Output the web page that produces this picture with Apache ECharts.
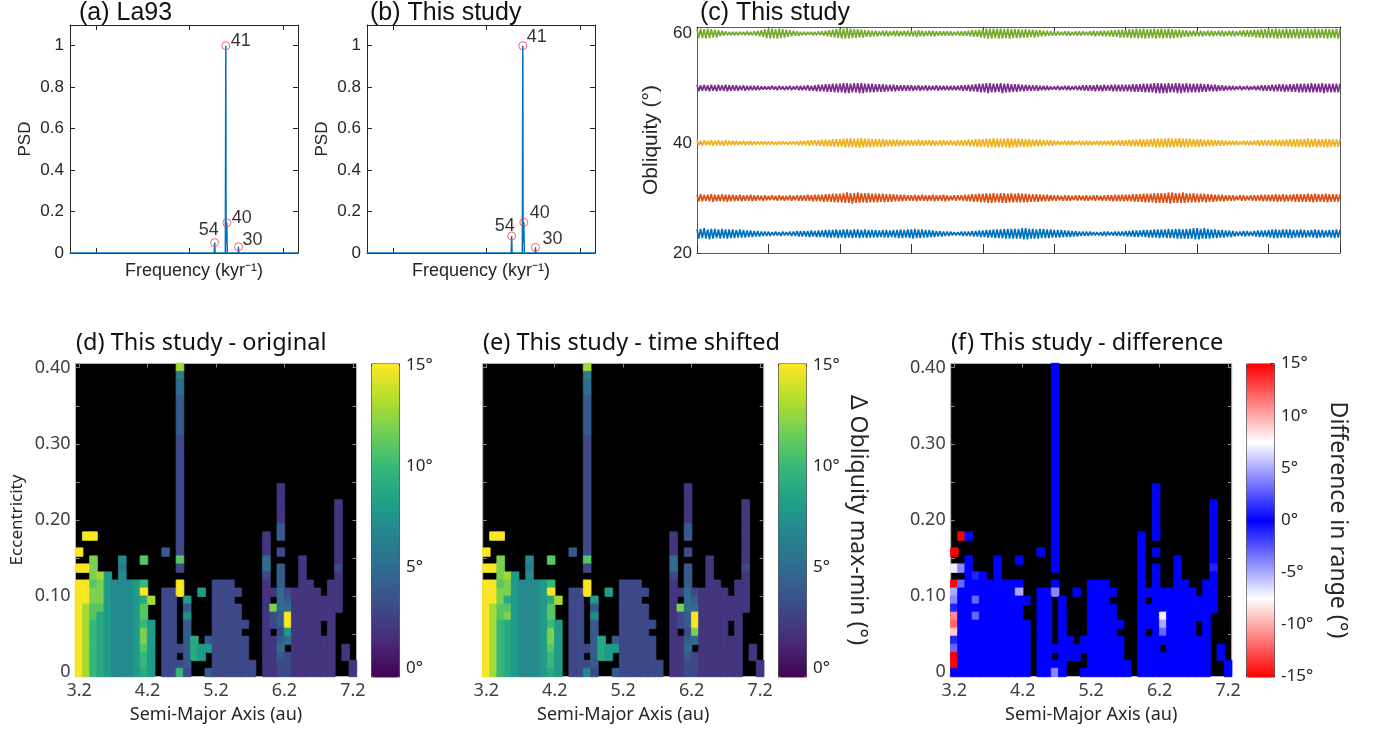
<!DOCTYPE html>
<html><head><meta charset="utf-8">
<script src="https://cdn.jsdelivr.net/npm/echarts@6/dist/echarts.min.js"></script>
<style>html,body{margin:0;padding:0;background:#fff}#c{width:1383px;height:732px}</style>
</head><body><div id="c"></div><script>
// ---------- (a),(b) power spectra ----------
const peakPeriods   = [54, 41, 40, 30];              // kyr
const peakPsdLa93   = [0.05, 1.0, 0.146, 0.03];
const peakPsdStudy  = [0.082, 1.0, 0.148, 0.027];
const specFreq      = [0.00052, 0.0183, 0.01852, 0.0187, 0.0241, 0.02439, 0.02455, 0.025, 0.0253, 0.0331, 0.03333, 0.0336, 0.145];
const specPsdLa93   = [0, 0, 0.05, 0, 0, 1.0, 0.05, 0.146, 0, 0, 0.03, 0, 0];
const specPsdStudy  = [0, 0, 0.082, 0, 0, 1.0, 0.05, 0.148, 0, 0, 0.027, 0, 0];
const freqMin = 0.00052, freqMax = 0.145;

// ---------- (c) obliquity time series (successive peak / trough readings) ----------
const obliqBlue = [
24.3,22.6,24.4,22.7,24.5,22.6,24.3,22.5,24.4,22.6,24.4,22.7,24.3,22.6,24.4,22.7,24.3,22.6,24.3,22.7,
24.3,22.7,24.2,22.8,24.3,22.8,24.2,22.8,24.1,22.9,24.1,22.9,24.0,23.0,24.0,23.0,23.9,23.1,23.9,23.1,
23.9,23.1,23.8,23.2,23.9,23.2,23.8,23.1,23.9,23.2,23.8,23.2,23.9,23.1,23.9,23.1,24.0,23.0,24.0,23.0,
24.0,23.0,24.0,22.9,24.1,23.0,24.0,22.9,24.1,22.9,24.1,22.9,24.2,22.8,24.2,22.8,24.2,22.8,24.3,22.7,
24.2,22.8,24.3,22.7,24.3,22.8,24.2,22.7,24.3,22.8,24.3,22.7,24.2,22.8,24.3,22.7,24.2,22.8,24.2,22.8,
24.2,22.8,24.1,22.9,24.2,22.8,24.2,22.8,24.1,22.9,24.2,22.8,24.2,22.7,24.3,22.7,24.2,22.8,24.3,22.7,
24.3,22.6,24.4,22.7,24.3,22.7,24.3,22.8,24.2,22.8,24.2,22.9,24.1,22.9,24.0,23.0,24.0,23.0,23.9,23.1,
23.9,23.1,23.9,23.2,23.8,23.2,23.8,23.2,23.9,23.1,23.9,23.1,23.9,23.1,24.0,23.0,24.0,23.0,24.1,22.9,
24.1,22.9,24.2,22.8,24.2,22.8,24.3,22.7,24.3,22.7,24.3,22.7,24.4,22.6,24.4,22.6,24.4,22.6,24.4,22.6,
24.4,22.6,24.5,22.5,24.5,22.5,24.4,22.6,24.4,22.6,24.3,22.6,24.4,22.7,24.4,22.7,24.3,22.7,24.3,22.8,
24.2,22.8,24.2,22.8,24.2,22.9,24.1,22.9,24.1,22.9,24.0,23.0,24.0,23.0,23.9,23.1,23.9,23.1,23.9,23.1,
23.9,23.2,23.8,23.2,23.8,23.2,23.8,23.1,23.9,23.1,23.9,23.2,23.8,23.2,23.9,23.1,23.9,23.1,23.9,23.1,
24.0,23.0,24.0,23.0,24.1,22.9,24.1,22.9,24.1,23.0,24.2,22.9,24.2,22.8,24.2,22.8,24.3,22.8,24.3,22.7,
24.3,22.8,24.3,22.7,24.4,22.7,24.3,22.7,24.4,22.6,24.4,22.6,24.3,22.6,24.4,22.6,24.4,22.6,24.5,22.5,
24.5,22.5,24.4,22.6,24.5,22.6,24.4,22.6,24.3,22.7,24.3,22.7,24.2,22.8,24.2,22.8,24.1,22.9,24.1,22.9,
24.0,23.0,23.9,23.1,23.9,23.1,24.0,23.0,24.0,23.1,23.9,23.1,24.0,23.0,24.1,22.9,24.1,22.9,24.1,22.9,
24.2,22.8,24.3,22.7,24.3,22.7,24.2,22.8,24.3,22.8,24.3,22.7,24.3,22.7,24.2,22.8,24.2,22.8,24.3,22.8,
24.2,22.8,24.1,22.9,24.2,22.8,24.3,22.7,24.2,22.8,24.2,22.8,24.1,22.9,24.2,22.8,24.2,22.7,24.3,22.8,
24.2];
const obliqOrange = [
30.6,29.4,30.7,29.4,30.6,29.5,30.6,29.4,30.7,29.3,30.6,29.4,30.6,29.4,30.7,29.4,30.6,29.3,30.6,29.4,
30.6,29.4,30.5,29.5,30.6,29.4,30.5,29.5,30.5,29.5,30.6,29.4,30.5,29.5,30.5,29.6,30.4,29.5,30.5,29.6,
30.4,29.6,30.5,29.6,30.4,29.5,30.5,29.6,30.4,29.5,30.4,29.6,30.5,29.5,30.4,29.6,30.5,29.5,30.5,29.5,
30.5,29.5,30.6,29.5,30.5,29.4,30.6,29.4,30.6,29.4,30.6,29.3,30.7,29.3,30.7,29.3,30.8,29.2,30.8,29.2,
30.8,29.2,30.9,29.1,31.0,29.1,30.9,29.0,30.9,29.1,31.0,29.1,30.9,29.2,30.9,29.1,30.9,29.2,30.8,29.2,
30.8,29.2,30.8,29.3,30.8,29.2,30.7,29.3,30.7,29.3,30.7,29.4,30.6,29.4,30.6,29.4,30.6,29.5,30.5,29.5,
30.5,29.5,30.6,29.4,30.5,29.5,30.6,29.5,30.5,29.4,30.5,29.5,30.6,29.4,30.5,29.5,30.5,29.5,30.6,29.4,
30.5,29.5,30.4,29.6,30.5,29.5,30.5,29.6,30.5,29.5,30.6,29.4,30.6,29.4,30.7,29.3,30.7,29.3,30.8,29.2,
30.8,29.2,30.9,29.1,30.8,29.1,30.9,29.2,30.8,29.2,30.9,29.1,30.9,29.1,30.8,29.2,30.9,29.2,30.8,29.2,
30.9,29.2,30.8,29.2,30.8,29.2,30.7,29.3,30.7,29.3,30.7,29.3,30.6,29.4,30.6,29.4,30.6,29.4,30.5,29.5,
30.5,29.5,30.5,29.6,30.4,29.5,30.5,29.5,30.5,29.5,30.4,29.6,30.5,29.5,30.5,29.6,30.4,29.5,30.5,29.5,
30.4,29.6,30.5,29.5,30.5,29.6,30.4,29.5,30.5,29.5,30.5,29.5,30.5,29.4,30.6,29.4,30.6,29.4,30.6,29.4,
30.6,29.4,30.6,29.4,30.7,29.3,30.7,29.3,30.7,29.3,30.8,29.2,30.8,29.2,30.8,29.2,30.9,29.1,30.9,29.1,
30.9,29.1,30.9,29.1,31.0,29.0,31.0,29.1,30.9,29.1,30.9,29.1,31.0,29.1,30.9,29.2,30.8,29.2,30.9,29.2,
30.8,29.2,30.8,29.3,30.8,29.2,30.7,29.3,30.7,29.3,30.6,29.4,30.6,29.4,30.6,29.4,30.5,29.5,30.5,29.5,
30.5,29.5,30.4,29.6,30.5,29.5,30.5,29.5,30.4,29.6,30.5,29.5,30.5,29.5,30.5,29.5,30.6,29.4,30.6,29.4,
30.6,29.4,30.6,29.4,30.7,29.3,30.6,29.4,30.7,29.3,30.6,29.4,30.6,29.4,30.7,29.3,30.7,29.3,30.7,29.3,
30.7,29.3,30.8,29.3,30.7,29.2,30.8,29.3,30.7,29.3,30.7,29.3,30.8,29.2,30.7,29.3,30.7,29.3,30.7,29.3,
30.7];
const obliqYellow = [
40.5,39.6,40.4,39.5,40.5,39.6,40.4,39.6,40.5,39.5,40.4,39.6,40.5,39.6,40.4,39.5,40.5,39.6,40.4,39.6,
40.4,39.6,40.4,39.6,40.3,39.7,40.4,39.6,40.3,39.7,40.4,39.6,40.3,39.7,40.3,39.7,40.3,39.7,40.3,39.7,
40.3,39.7,40.3,39.7,40.2,39.7,40.3,39.7,40.3,39.8,40.2,39.7,40.3,39.7,40.3,39.7,40.3,39.6,40.4,39.6,
40.4,39.6,40.5,39.5,40.5,39.6,40.5,39.5,40.5,39.5,40.6,39.4,40.6,39.4,40.6,39.4,40.7,39.3,40.7,39.3,
40.7,39.3,40.8,39.2,40.8,39.2,40.9,39.2,40.8,39.2,40.8,39.1,40.9,39.2,40.8,39.2,40.8,39.2,40.7,39.3,
40.7,39.3,40.7,39.3,40.7,39.3,40.6,39.4,40.6,39.4,40.6,39.4,40.6,39.4,40.5,39.5,40.5,39.5,40.5,39.5,
40.5,39.5,40.5,39.5,40.6,39.5,40.5,39.5,40.5,39.6,40.5,39.5,40.5,39.5,40.4,39.6,40.5,39.5,40.5,39.6,
40.4,39.6,40.5,39.6,40.4,39.5,40.5,39.5,40.5,39.5,40.5,39.5,40.6,39.4,40.6,39.4,40.7,39.3,40.7,39.3,
40.7,39.3,40.8,39.2,40.8,39.2,40.9,39.2,40.8,39.2,40.8,39.2,40.8,39.2,40.9,39.1,40.8,39.2,40.8,39.2,
40.8,39.3,40.7,39.3,40.7,39.3,40.7,39.3,40.6,39.4,40.6,39.4,40.6,39.4,40.5,39.5,40.5,39.5,40.5,39.5,
40.4,39.6,40.4,39.6,40.3,39.7,40.4,39.6,40.4,39.6,40.4,39.6,40.3,39.7,40.4,39.6,40.4,39.6,40.4,39.6,
40.4,39.6,40.3,39.7,40.4,39.6,40.4,39.6,40.4,39.6,40.4,39.6,40.5,39.5,40.4,39.6,40.5,39.5,40.5,39.5,
40.5,39.5,40.6,39.4,40.6,39.4,40.6,39.4,40.7,39.3,40.7,39.3,40.7,39.3,40.7,39.3,40.8,39.2,40.8,39.2,
40.8,39.2,40.8,39.2,40.9,39.2,40.8,39.2,40.8,39.3,40.9,39.2,40.8,39.2,40.8,39.2,40.8,39.3,40.7,39.3,
40.7,39.3,40.7,39.3,40.6,39.4,40.6,39.4,40.6,39.4,40.5,39.5,40.5,39.5,40.5,39.5,40.4,39.6,40.4,39.6,
40.4,39.6,40.4,39.6,40.3,39.7,40.4,39.6,40.4,39.6,40.4,39.6,40.4,39.6,40.5,39.5,40.5,39.5,40.5,39.5,
40.5,39.5,40.5,39.5,40.6,39.4,40.6,39.4,40.6,39.4,40.6,39.4,40.7,39.3,40.7,39.3,40.7,39.3,40.7,39.3,
40.7,39.3,40.8,39.2,40.7,39.3,40.8,39.2,40.7,39.3,40.7,39.3,40.8,39.2,40.7,39.3,40.7,39.3,40.7,39.3,
40.7];
const obliqPurple = [
50.6,49.4,50.5,49.5,50.6,49.5,50.5,49.4,50.6,49.5,50.5,49.4,50.6,49.5,50.5,49.5,50.6,49.4,50.5,49.5,
50.5,49.5,50.5,49.5,50.4,49.6,50.5,49.5,50.4,49.6,50.4,49.6,50.4,49.6,50.4,49.6,50.3,49.7,50.3,49.7,
50.3,49.7,50.4,49.7,50.3,49.6,50.4,49.7,50.3,49.6,50.3,49.7,50.4,49.6,50.3,49.7,50.4,49.6,50.4,49.6,
50.4,49.6,50.5,49.5,50.4,49.5,50.5,49.4,50.6,49.4,50.6,49.4,50.7,49.3,50.7,49.3,50.8,49.2,50.8,49.2,
50.8,49.2,50.9,49.1,50.9,49.1,50.8,49.2,50.9,49.2,50.9,49.1,50.9,49.1,50.8,49.2,50.8,49.2,50.8,49.2,
50.7,49.3,50.7,49.3,50.7,49.3,50.6,49.4,50.6,49.4,50.6,49.4,50.5,49.5,50.5,49.5,50.5,49.5,50.5,49.5,
50.5,49.5,50.4,49.6,50.5,49.5,50.4,49.6,50.5,49.5,50.4,49.6,50.4,49.6,50.5,49.5,50.4,49.6,50.4,49.6,
50.4,49.6,50.4,49.6,50.4,49.6,50.4,49.6,50.5,49.5,50.5,49.5,50.6,49.4,50.6,49.4,50.7,49.3,50.8,49.2,
50.8,49.2,50.9,49.1,50.9,49.2,50.8,49.2,50.8,49.3,50.9,49.1,50.8,49.2,50.8,49.2,50.7,49.3,50.7,49.3,
50.7,49.4,50.6,49.4,50.6,49.5,50.5,49.5,50.5,49.5,50.5,49.5,50.4,49.6,50.4,49.6,50.4,49.6,50.3,49.7,
50.3,49.7,50.4,49.6,50.3,49.7,50.4,49.6,50.4,49.6,50.3,49.7,50.4,49.6,50.4,49.6,50.5,49.5,50.5,49.5,
50.5,49.5,50.5,49.4,50.6,49.5,50.5,49.4,50.6,49.5,50.5,49.5,50.6,49.4,50.6,49.4,50.6,49.4,50.6,49.4,
50.6,49.4,50.6,49.4,50.7,49.3,50.7,49.3,50.7,49.3,50.8,49.2,50.8,49.2,50.8,49.2,50.9,49.1,50.9,49.1,
50.9,49.1,50.8,49.1,50.9,49.2,50.8,49.2,50.9,49.1,50.9,49.1,50.8,49.2,50.9,49.2,50.8,49.2,50.8,49.2,
50.8,49.2,50.8,49.3,50.7,49.3,50.7,49.4,50.6,49.4,50.6,49.4,50.5,49.5,50.5,49.5,50.4,49.6,50.4,49.6,
50.4,49.6,50.3,49.7,50.4,49.6,50.3,49.7,50.4,49.6,50.3,49.7,50.4,49.6,50.4,49.6,50.5,49.5,50.5,49.5,
50.5,49.5,50.6,49.4,50.6,49.4,50.7,49.4,50.7,49.3,50.6,49.4,50.7,49.3,50.7,49.3,50.8,49.2,50.8,49.2,
50.8,49.2,50.8,49.2,50.9,49.2,50.8,49.2,50.8,49.2,50.9,49.1,50.8,49.2,50.8,49.2,50.8,49.2,50.8,49.2,
50.8];
const obliqGreen = [
60.7,59.1,60.8,59.1,60.7,59.0,60.8,59.1,60.7,59.2,60.6,59.2,60.5,59.4,60.4,59.5,60.3,59.6,60.2,59.6,
60.2,59.6,60.2,59.6,60.2,59.7,60.2,59.6,60.3,59.6,60.2,59.6,60.3,59.5,60.4,59.4,60.5,59.3,60.7,59.1,
60.8,59.0,60.8,59.1,60.7,59.0,60.8,59.1,60.7,59.2,60.6,59.3,60.5,59.4,60.4,59.5,60.3,59.5,60.2,59.6,
60.2,59.6,60.2,59.7,60.2,59.6,60.2,59.6,60.3,59.6,60.3,59.5,60.4,59.4,60.5,59.3,60.6,59.2,60.7,59.1,
60.8,59.0,60.8,59.0,60.9,59.0,60.8,59.1,60.7,59.1,60.7,59.2,60.6,59.2,60.5,59.3,60.5,59.3,60.4,59.4,
60.4,59.4,60.3,59.5,60.4,59.4,60.4,59.4,60.3,59.5,60.4,59.4,60.4,59.4,60.3,59.5,60.4,59.4,60.4,59.4,
60.4,59.4,60.4,59.3,60.5,59.4,60.4,59.4,60.3,59.5,60.4,59.4,60.4,59.4,60.3,59.5,60.3,59.5,60.3,59.5,
60.3,59.5,60.3,59.5,60.2,59.6,60.3,59.5,60.3,59.5,60.3,59.5,60.4,59.4,60.5,59.3,60.5,59.3,60.6,59.2,
60.7,59.1,60.8,59.0,60.8,59.0,60.8,59.1,60.8,59.0,60.8,59.0,60.7,59.1,60.8,59.0,60.7,59.1,60.7,59.1,
60.7,59.1,60.6,59.2,60.7,59.2,60.6,59.3,60.6,59.2,60.5,59.3,60.5,59.4,60.4,59.4,60.4,59.5,60.3,59.5,
60.3,59.5,60.3,59.6,60.2,59.6,60.3,59.5,60.3,59.5,60.2,59.6,60.3,59.5,60.3,59.5,60.3,59.6,60.2,59.6,
60.3,59.5,60.4,59.4,60.3,59.5,60.4,59.4,60.4,59.4,60.4,59.4,60.5,59.3,60.5,59.3,60.6,59.2,60.6,59.2,
60.6,59.2,60.7,59.1,60.7,59.1,60.8,59.0,60.7,59.1,60.8,59.0,60.7,59.1,60.7,59.1,60.8,59.0,60.7,59.1,
60.8,59.0,60.7,59.1,60.8,59.0,60.7,59.1,60.6,59.2,60.6,59.2,60.5,59.3,60.5,59.3,60.4,59.4,60.4,59.4,
60.4,59.4,60.4,59.4,60.3,59.5,60.4,59.4,60.4,59.4,60.3,59.5,60.4,59.4,60.4,59.4,60.3,59.5,60.4,59.4,
60.4,59.4,60.3,59.5,60.4,59.4,60.5,59.3,60.5,59.3,60.5,59.3,60.6,59.2,60.6,59.2,60.7,59.1,60.7,59.1,
60.7,59.1,60.7,59.1,60.8,59.0,60.7,59.1,60.7,59.1,60.8,59.0,60.7,59.1,60.7,59.1,60.8,59.0,60.7,59.1,
60.7,59.1,60.8,59.0,60.7,59.1,60.8,59.0,60.7,59.1,60.7,59.1,60.8,59.0,60.7,59.1,60.7,59.1,60.8,59.0,
60.7];
const obliqTicks = [20, 40, 60];
const timeSteps = obliqBlue.map((_, i) => i);

// ---------- (d),(e),(f) stability maps ----------
const semiMajorAxis = [3.200,3.305,3.411,3.516,3.621,3.726,3.832,3.937,4.042,4.147,4.253,4.358,4.463,4.568,4.674,4.779,4.884,4.989,5.095,5.200,
 5.305,5.411,5.516,5.621,5.726,5.832,5.937,6.042,6.147,6.253,6.358,6.463,6.568,6.674,6.779,6.884,6.989,7.095,7.200];
const eccentricity = [0,0.011,0.021,0.032,0.042,0.053,0.063,0.074,0.084,0.095,0.105,0.116,0.126,0.137,0.147,0.158,0.168,0.179,0.189,0.200,
 0.211,0.221,0.232,0.242,0.253,0.263,0.274,0.284,0.295,0.305,0.316,0.326,0.337,0.347,0.358,0.368,0.379,0.389,0.400];
const axisTicksA = [3.2, 4.2, 5.2, 6.2, 7.2];
const axisTicksE = [0, 0.1, 0.2, 0.3, 0.4];
const tickMarksE = [0, 0.05, 0.1, 0.15, 0.2, 0.25, 0.3, 0.35, 0.4];
// one string per eccentricity row (top = 0.40), one char per semi-major axis column;
// char = degrees in hex (0..F), '.' = unstable (no value)
const rangeOriginal = [
"..........|....D.....|..........|.........",
"..........|....6.....|..........|.........",
"..........|....5.....|..........|.........",
"..........|....5.....|..........|.........",
"..........|....4.....|..........|.........",
"..........|....4.....|..........|.........",
"..........|....4.....|..........|.........",
"..........|....4.....|..........|.........",
"..........|....4.....|..........|.........",
"..........|....3.....|..........|.........",
"..........|....3.....|..........|.........",
"..........|....3.....|..........|.........",
"..........|....3.....|..........|.........",
"..........|....3.....|..........|.........",
"..........|....3.....|..........|.........",
"..........|....3.....|........2.|.........",
"..........|....3.....|........2.|.........",
"..........|....3.....|........2.|......2..",
"..........|....3.....|........2.|......2..",
"..........|....3.....|........2.|......2..",
"..........|....3.....|........4.|......2..",
".FF.......|....3.....|......2.4.|......2..",
"..........|....3.....|......2...|......2..",
"F.........|..4.3.....|......2.3.|......2..",
"..C...7..B|....B.....|......5...|.2....2..",
"FFC...6...|....3.....|......5.4.|.2....3..",
"..CD8.7...|..........|......3.4.|.2....2..",
"FFBC87778A|....F....3|33....2.4.|.22..22..",
"FFCC87778F|..33F..8.3|333...2253|2222.22..",
"FFCC877789|D.33.8...3|33....2.54|2222222..",
"FDBB87778B|..33.4...3|333...2C55|2222222..",
"FDB987778B|..33.7...3|333...234F|222222...",
"FDA987778A|8.33.4...3|3333..234F|2222.2...",
"FDA987778C|8.33.4...3|333...2.38|2222.2...",
"FDA987778C|8.33.49.43|3333..2245|222222...",
"FDA987778B|8.33349883|3333..225.|222222.2.",
"FDA987778A|8.33.498.3|3333..2243|222222.2.",
"FDA987778A|8.3334...3|33333.2233|222222..2",
"FDA9877789|8.33A3..43|33333.2233|222222..2"];
const rangeShifted = [
"..........|....D.....|..........|.........",
"..........|....6.....|..........|.........",
"..........|....5.....|..........|.........",
"..........|....5.....|..........|.........",
"..........|....4.....|..........|.........",
"..........|....4.....|..........|.........",
"..........|....4.....|..........|.........",
"..........|....4.....|..........|.........",
"..........|....4.....|..........|.........",
"..........|....3.....|..........|.........",
"..........|....3.....|..........|.........",
"..........|....3.....|..........|.........",
"..........|....3.....|..........|.........",
"..........|....3.....|..........|.........",
"..........|....3.....|..........|.........",
"..........|....3.....|........2.|.........",
"..........|....3.....|........2.|.........",
"..........|....3.....|........2.|......2..",
"..........|....3.....|........2.|......2..",
"..........|....3.....|........2.|......2..",
"..........|....3.....|........4.|......2..",
".FF.......|....3.....|......2.4.|......2..",
"..........|....3.....|......2...|......2..",
"F.........|..4.3.....|......2.3.|......2..",
"..C...7..B|....B.....|......5...|.2....2..",
"FFC...6...|....3.....|......5.4.|.2....3..",
"..CD8.7...|..........|......3.4.|.2....2..",
"FFBC87778A|....F....3|33....2.4.|.22..22..",
"FFCC87778F|..33F..8.3|333...2253|2222.22..",
"FFC9877789|D.33.8...3|33....2.54|2222222..",
"FDBB87778B|..33.4...3|333...2C55|2222222..",
"FDBC87778B|..33.7...3|333...234F|222222...",
"FDA987778A|8.33.4...3|3333..234F|2222.2...",
"FDA987778C|8.33.4...3|333...2.3C|2222.2...",
"FDA987778C|8.33.49.43|3333..2245|222222...",
"FDA987778B|8.33349883|3333..225.|222222.2.",
"FDA987778A|8.33.498.3|3333..2243|222222.2.",
"FDA987778A|8.3334...3|33333.2233|222222..2",
"FDA9877789|8.3373..43|33333.2233|222222..2"];
// |difference| in degrees (hex), '.' = unstable
const rangeDifference = [
"..........|....0.....|..........|.........",
"..........|....0.....|..........|.........",
"..........|....0.....|..........|.........",
"..........|....0.....|..........|.........",
"..........|....0.....|..........|.........",
"..........|....0.....|..........|.........",
"..........|....0.....|..........|.........",
"..........|....0.....|..........|.........",
"..........|....0.....|..........|.........",
"..........|....0.....|..........|.........",
"..........|....0.....|..........|.........",
"..........|....0.....|..........|.........",
"..........|....0.....|..........|.........",
"..........|....0.....|..........|.........",
"..........|....0.....|..........|.........",
"..........|....0.....|........0.|.........",
"..........|....0.....|........0.|.........",
"..........|....0.....|........0.|......0..",
"..........|....0.....|........0.|......0..",
"..........|....0.....|........0.|......0..",
"..........|....0.....|........0.|......0..",
".F0.......|....0.....|......0.0.|......0..",
"..........|....0.....|......0...|......0..",
"F.........|..0.0.....|......0.0.|......0..",
"..0...0..0|....0.....|......0...|.0....0..",
"740...0...|....0.....|......0.0.|.0....1..",
"..010.0...|..........|......0.0.|.0....0..",
"F300000000|....0....0|00....0.0.|.00..00..",
"5000000005|..004..0.0|000...0000|0000.00..",
"4003000000|0.00.0...0|00....0.00|0000000..",
"1000000000|..00.0...0|000...0000|0000000..",
"B003000000|..00.0...0|000...0007|000000...",
"C000000000|0.00.0...0|0000..0005|0000.0...",
"9000000000|0.00.0...0|000...0.03|0000.0...",
"1000000000|0.00.00.00|0000..0000|000000...",
"3000000000|0.00000000|0000..000.|000000.0.",
"F000000000|0.00.000.0|0000..0000|000000.0.",
"F000000000|0.0000...0|00000.0000|000000..0",
"0000000000|0.0040..00|00000.0000|000000..0"];
const cbTicksRange = [0, 5, 10, 15];
const cbTicksDiff = [-15, -10, -5, 0, 5, 10, 15];

// ---------- styling ----------
const FT = '"Liberation Sans", Arial, Helvetica, sans-serif';
const FTN = '"Liberation Sans Narrow", "Liberation Sans", Arial, sans-serif';
const FB = '"Noto Sans", "Open Sans", sans-serif';
const INK = '#262626';
const viridis = ['#440154','#482878','#3e4a89','#31688e','#26828e','#1f9e89','#35b779','#6ece58','#b5de2b','#fde725'];
const diffColors = ['#ff0000','#ffffff','#0000ff','#ffffff','#ff0000'];

const grid = [], xAxis = [], yAxis = [], series = [], visualMap = [];

function cellsToData(rows, vmin, vmax, colors) {
  const out = [];
  const n = rows.length;
  rows.forEach((raw, r) => {
    const row = raw.replace(/\|/g, '');
    for (let c = 0; c < row.length; c++) {
      const ch = row[c];
      if (ch === '.') continue;
      const v = parseInt(ch, 16);
      const t = Math.max(0, Math.min(1, (v - vmin) / (vmax - vmin)));
      // border in the cell's own colour hides anti-aliasing seams between cells
      out.push({value: [c, n - 1 - r, v], itemStyle: {borderColor: echarts.color.lerp(t, colors), borderWidth: 0.8}});
    }
  });
  return out;
}

function psdPanel(left, specPsd, peakPsd, offs, namePad) {
  const gi = grid.push({left: left, top: 25, width: 228, height: 228}) - 1;
  const xi = xAxis.length;
  const cx = {gridIndex: gi, type: 'log', logBase: 10, min: freqMin, max: freqMax, splitLine: {show: false},
    axisLine: {onZero: false, lineStyle: {color: INK, width: 1}},
    axisTick: {inside: true, length: 5, lineStyle: {color: INK}}, axisLabel: {show: false}, minorTick: {show: false}};
  xAxis.push(Object.assign({}, cx, {position: 'bottom', name: 'Frequency (kyr\u207B\u00B9)', nameLocation: 'middle', nameGap: 9,
    nameTextStyle: {fontFamily: FT, fontSize: 18, color: INK, padding: [0, 0, 0, namePad]}}));
  xAxis.push(Object.assign({}, cx, {position: 'top'}));
  const yi = yAxis.length;
  const cy = {gridIndex: gi, type: 'value', min: 0, max: 1.1, interval: 0.2, splitLine: {show: false},
    axisLine: {show: true, onZero: false, lineStyle: {color: INK}},
    axisTick: {show: true, inside: true, length: 5, lineStyle: {color: INK}}};
  yAxis.push(Object.assign({}, cy, {position: 'left',
    axisLabel: {showMaxLabel: false, fontFamily: FT, fontSize: 17, color: INK, margin: 6},
    name: 'PSD', nameLocation: 'middle', nameGap: 36, nameRotate: 90,
    nameTextStyle: {fontFamily: FT, fontSize: 17, color: INK}}));
  yAxis.push(Object.assign({}, cy, {position: 'right', axisLabel: {show: false}}));
  series.push({type: 'line', xAxisIndex: xi, yAxisIndex: yi, z: 2, showSymbol: false, silent: true,
    data: specFreq.map((f, i) => [f, specPsd[i]]), lineStyle: {color: '#0072BD', width: 1.5}});
  series.push({type: 'scatter', xAxisIndex: xi, yAxisIndex: yi, z: 3, symbol: 'circle', symbolSize: 8, silent: true,
    itemStyle: {color: 'rgba(0,0,0,0)', borderColor: '#ff3b3b', borderWidth: 1},
    data: peakPeriods.map((p, i) => ({value: [1 / p, peakPsd[i]], label: {offset: offs[i]}})),
    label: {show: true, position: 'inside', fontFamily: FT, fontSize: 18, color: '#000',
      formatter: (p) => String(peakPeriods[p.dataIndex])}});
}

psdPanel(70, specPsdLa93, peakPsdLa93, [[-6, -13], [15, -5], [15, -5], [14, -7]], 20);
psdPanel(367, specPsdStudy, peakPsdStudy, [[-7, -10], [14, -9], [16, -9], [17, -8]], 0);

// (c)
(function () {
  const gi = grid.push({left: 697, top: 27, width: 643, height: 226}) - 1;
  const xi = xAxis.length;
  const step = (timeSteps.length - 1) / 9 - 1;
  const cx = {gridIndex: gi, type: 'category', data: timeSteps, boundaryGap: false, axisLabel: {show: false},
    splitLine: {show: false}, axisLine: {onZero: false, lineStyle: {color: '#5a5a5a'}}};
  xAxis.push(Object.assign({}, cx, {position: 'bottom', axisTick: {inside: true, length: 9, interval: step, lineStyle: {color: '#333'}}}));
  xAxis.push(Object.assign({}, cx, {position: 'top', axisTick: {inside: true, length: 4, interval: step, lineStyle: {color: '#333'}}}));
  const yi = yAxis.length;
  yAxis.push({gridIndex: gi, type: 'value', position: 'left', min: 20, max: 61.1, splitLine: {show: false},
    axisLine: {show: true, onZero: false, lineStyle: {color: '#5a5a5a'}},
    axisTick: {show: true, inside: true, length: 4, customValues: obliqTicks, lineStyle: {color: '#333'}},
    axisLabel: {customValues: obliqTicks, fontFamily: FTN, fontSize: 17, color: INK, margin: 5},
    name: 'Obliquity (\u00B0)', nameLocation: 'middle', nameGap: 35, nameRotate: 90,
    nameTextStyle: {fontFamily: FT, fontSize: 21, color: INK}});
  yAxis.push({gridIndex: gi, type: 'value', position: 'right', min: 20, max: 61.1, splitLine: {show: false},
    axisLine: {show: true, onZero: false, lineStyle: {color: '#5a5a5a'}}, axisTick: {show: false}, axisLabel: {show: false}});
  const lines = [[obliqBlue, '#0072BD'], [obliqOrange, '#D95319'], [obliqYellow, '#EDB120'], [obliqPurple, '#7E2F8E'], [obliqGreen, '#77AC30']];
  lines.forEach(([d, col]) => series.push({type: 'line', xAxisIndex: xi, yAxisIndex: yi, data: d, showSymbol: false, silent: true,
    lineStyle: {color: col, width: 1.7}}));
})();

// (d),(e),(f)
const aHalf = (semiMajorAxis[1] - semiMajorAxis[0]) / 2;
const eHalf = (eccentricity[1] - eccentricity[0]) / 2;
const aMin = semiMajorAxis[0] - aHalf, aMax = semiMajorAxis[semiMajorAxis.length - 1] + aHalf;
const eMin = eccentricity[0] - eHalf, eMax = eccentricity[eccentricity.length - 1] + eHalf;

function heatPanel(opt) {
  const top = 363.5, w = 281, h = 313;
  const gi = grid.push({left: opt.left, top: top, width: w, height: h, show: true, backgroundColor: '#000',
    borderColor: '#b4b4b4', borderWidth: 1}) - 1;
  const xc = xAxis.length;
  xAxis.push({gridIndex: gi, type: 'category', data: semiMajorAxis, show: false});
  const tickStyle = {show: true, inside: true, length: 4, lineStyle: {color: '#8a8a8a'}};
  xAxis.push({gridIndex: gi, type: 'value', position: 'bottom', min: aMin, max: aMax, splitLine: {show: false},
    axisLine: {show: false, onZero: false}, axisTick: Object.assign({customValues: axisTicksA}, tickStyle),
    axisLabel: {customValues: axisTicksA, formatter: (v) => v.toFixed(1), fontFamily: FB, fontSize: 18, color: '#404040', margin: 5},
    name: 'Semi-Major Axis (au)', nameLocation: 'middle', nameGap: 29,
    nameTextStyle: {fontFamily: FB, fontSize: 18, color: '#262626'}});
  xAxis.push({gridIndex: gi, type: 'value', position: 'top', min: aMin, max: aMax, splitLine: {show: false},
    axisLine: {show: false, onZero: false}, axisTick: Object.assign({customValues: axisTicksA}, tickStyle), axisLabel: {show: false}});
  const yc = yAxis.length;
  yAxis.push({gridIndex: gi, type: 'category', data: eccentricity, show: false});
  const yl = {gridIndex: gi, type: 'value', position: 'left', min: eMin, max: eMax, splitLine: {show: false},
    axisLine: {show: false, onZero: false}, axisTick: Object.assign({customValues: tickMarksE}, tickStyle),
    axisLabel: {show: opt.yLabels, customValues: axisTicksE, formatter: (v) => (v === 0 ? '0' : v.toFixed(2)),
      fontFamily: FB, fontSize: 18, color: '#404040', margin: 5}};
  if (opt.yName) Object.assign(yl, {name: opt.yName, nameLocation: 'middle', nameGap: 50, nameRotate: 90,
    nameTextStyle: {fontFamily: FB, fontSize: 17, color: '#262626'}});
  yAxis.push(yl);
  yAxis.push({gridIndex: gi, type: 'value', position: 'right', min: eMin, max: eMax, splitLine: {show: false},
    axisLine: {show: false, onZero: false}, axisTick: Object.assign({customValues: tickMarksE}, tickStyle), axisLabel: {show: false}});
  const si = series.push({type: 'heatmap', xAxisIndex: xc, yAxisIndex: yc, data: cellsToData(opt.cells, opt.vmin, opt.vmax, opt.colors),
    silent: true, emphasis: {disabled: true}, progressive: 0}) - 1;
  visualMap.push({type: 'continuous', seriesIndex: si, min: opt.vmin, max: opt.vmax, inRange: {color: opt.colors},
    calculable: false, hoverLink: false, orient: 'vertical', left: opt.cbLeft, top: top, itemWidth: 28, itemHeight: h,
    padding: 0, borderColor: '#333', borderWidth: 1, text: null});
  const gcb = grid.push({left: opt.cbLeft, top: top, width: 28, height: h}) - 1;
  xAxis.push({gridIndex: gcb, type: 'value', show: false, min: 0, max: 1});
  const cbAxis = {gridIndex: gcb, type: 'value', position: 'right', min: opt.vmin, max: opt.vmax, splitLine: {show: false},
    axisLine: {show: false, onZero: false},
    axisTick: {show: true, inside: true, length: 4, customValues: opt.cbTicks, lineStyle: {color: '#333'}},
    axisLabel: {customValues: opt.cbTicks, formatter: (v) => v + '\u00B0', fontFamily: FB, fontSize: 17, color: '#262626', margin: 7}};
  if (opt.cbName) Object.assign(cbAxis, {name: opt.cbName, nameLocation: 'middle', nameGap: opt.cbGap, nameRotate: -90,
    nameTextStyle: {fontFamily: FB, fontSize: 23, color: '#262626'}});
  yAxis.push(cbAxis);
}

// colour-bar range of the obliquity-range maps runs slightly below 0 deg, as in the figure
heatPanel({left: 75.5, cells: rangeOriginal, vmin: -0.4, vmax: 15.1, colors: viridis, cbLeft: 371, cbTicks: cbTicksRange,
  yLabels: true, yName: 'Eccentricity'});
heatPanel({left: 482.7, cells: rangeShifted, vmin: -0.4, vmax: 15.1, colors: viridis, cbLeft: 778, cbTicks: cbTicksRange,
  yLabels: false, cbName: '\u0394 Obliquity max-min (\u00B0)', cbGap: 40});
heatPanel({left: 950.7, cells: rangeDifference, vmin: -15, vmax: 15, colors: diffColors, cbLeft: 1246, cbTicks: cbTicksDiff,
  yLabels: true, cbName: 'Difference in range (\u00B0)', cbGap: 52});

const tTop = {fontFamily: FT, fontSize: 25, fontWeight: 'normal', color: '#111'};
const tBot = {fontFamily: FB, fontSize: 23.5, fontWeight: 'normal', color: '#111'};
const title = [
  {text: '(a) La93', left: 79, top: 1, padding: 0, textStyle: tTop},
  {text: '(b) This study', left: 370, top: 1, padding: 0, textStyle: tTop},
  {text: '(c) This study', left: 700, top: 1, padding: 0, textStyle: tTop},
  {text: '(d) This study - original', left: 76, top: 331, padding: 0, textStyle: tBot},
  {text: '(e) This study - time shifted', left: 483, top: 331, padding: 0, textStyle: tBot},
  {text: '(f) This study - difference', left: 951, top: 331, padding: 0, textStyle: tBot}
];

const chart = echarts.init(document.getElementById('c'), null, {renderer: 'canvas'});
chart.setOption({animation: false, backgroundColor: '#fff', textStyle: {fontFamily: FB},
  title, grid, xAxis, yAxis, series, visualMap});
</script></body></html>
